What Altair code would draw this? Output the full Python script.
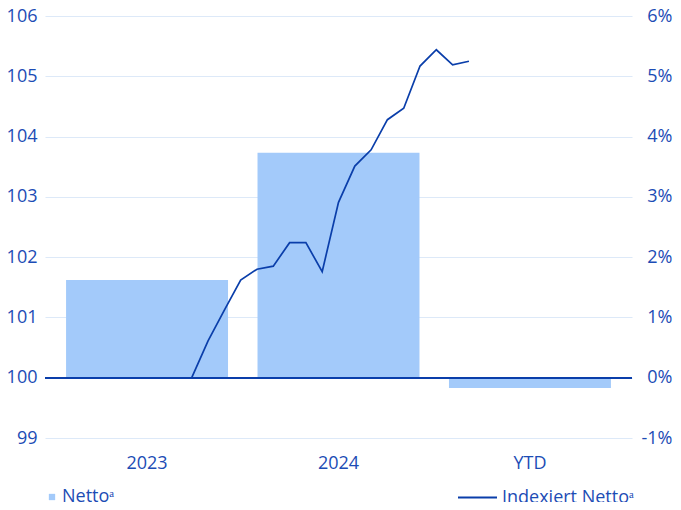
import altair as alt
import pandas as pd

categories = ["2023", "2024", "YTD"]
netto_pct = [1.62, 3.73, -0.17]

line_index = list(range(18))
indexiert = [100.00, 100.61, 101.12, 101.62, 101.80, 101.85, 102.24, 102.24, 101.76,
             102.91, 103.51, 103.78, 104.28, 104.47, 105.17, 105.44, 105.19, 105.25]

left_ticks = [99, 100, 101, 102, 103, 104, 105, 106]
right_ticks = [-1, 0, 1, 2, 3, 4, 5, 6]

bar_name = "Netto\u1d43"
line_name = "Indexiert Netto\u1d43"

FONT = "Open Sans"
FS = 18
LABEL = "#1c4cb5"
BAR = "#a3cafa"
LINE = "#0a3eaa"
GRID = "#dde9f8"

bars_df = pd.DataFrame({"cat": categories, "val": netto_pct, "series": [bar_name] * 3})
line_df = pd.DataFrame({"i": line_index, "v": indexiert, "series": [line_name] * len(line_index)})

bars = alt.Chart(bars_df).mark_bar(color=BAR).encode(
    x=alt.X("cat:N", sort=categories, title=None,
            scale=alt.Scale(paddingInner=0.154, paddingOuter=0.11),
            axis=alt.Axis(labelAngle=0, ticks=False, domain=False, labelPadding=16,
                          labelFontSize=FS, labelColor=LABEL, labelFont=FONT)),
    y=alt.Y("val:Q", title=None,
            scale=alt.Scale(domain=[-1, 6], nice=False),
            axis=alt.Axis(orient="right", values=right_ticks, grid=False, ticks=False,
                          domain=False, labelPadding=40, labelAlign="right",
                          labelFontSize=FS, labelColor=LABEL, labelFont=FONT,
                          labelExpr="datum.value + '%'")),
    color=alt.Color("series:N", scale=alt.Scale(domain=[bar_name], range=[BAR]),
                    legend=alt.Legend(title=None, orient="none", legendX=-2, legendY=472,
                                      symbolType="square", symbolSize=40, labelOffset=1,
                                      labelFontSize=FS, labelColor=LABEL, labelFont=FONT,
                                      symbolStrokeWidth=0)),
)

grid_layer = alt.Chart(line_df).mark_line(opacity=0).encode(
    y=alt.Y("v:Q", title=None,
            scale=alt.Scale(domain=[99, 106], nice=False, zero=False),
            axis=alt.Axis(orient="left", values=left_ticks, grid=True, gridColor=GRID,
                          gridWidth=1.2, ticks=False, domain=False, labelPadding=8,
                          labelFontSize=FS, labelColor=LABEL, labelFont=FONT)),
)

zero_rule = alt.Chart(line_df).mark_rule(color=LINE, strokeWidth=1.5).encode(
    y=alt.datum(100, scale=alt.Scale(domain=[99, 106], nice=False, zero=False), axis=None)
)

line = alt.Chart(line_df).mark_line(strokeWidth=1.7).encode(
    x=alt.X("i:Q", title=None, scale=alt.Scale(domain=[-9, 27], nice=False, zero=False), axis=None),
    y=alt.Y("v:Q", title=None, scale=alt.Scale(domain=[99, 106], nice=False, zero=False), axis=None),
    stroke=alt.Stroke("series:N", scale=alt.Scale(domain=[line_name], range=[LINE]),
                      legend=alt.Legend(title=None, orient="none", legendX=412, legendY=461,
                                        symbolType="stroke", symbolSize=1521,
                                        symbolStrokeWidth=1.8, labelOffset=4,
                                        labelFontSize=FS, labelColor=LABEL, labelFont=FONT)),
)

chart = alt.layer(grid_layer, bars, zero_rule, line).resolve_scale(
    x="independent", y="independent", color="independent"
).properties(
    width=587, height=422,
    autosize=alt.AutoSizeParams(type="none"),
    padding={"left": 37, "top": 8, "right": 41, "bottom": 64},
).configure_view(stroke=None)

chart.save("out.html", embed_options={"renderer": "svg", "actions": False})
